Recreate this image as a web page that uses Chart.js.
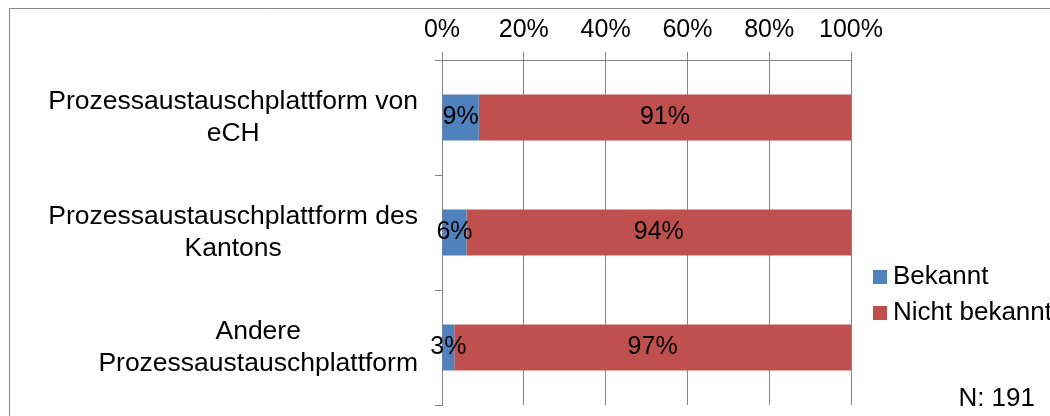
<!DOCTYPE html>
<html>
<head>
<meta charset="utf-8">
<script src="https://cdn.jsdelivr.net/npm/chart.js"></script>
<style>
  body { margin: 0; background: #fff; }
  canvas { display: block; }
</style>
</head>
<body>
<canvas id="bekanntChart" width="1050" height="416"></canvas>
<script>
// Daten
const kategorien = [
  ['Prozessaustauschplattform von', 'eCH'],
  ['Prozessaustauschplattform des', 'Kantons'],
  ['Andere', 'Prozessaustauschplattform']
];
const bekannt = [9, 6, 3];
const nichtBekannt = [91, 94, 97];
const serienNamen = ['Bekannt', 'Nicht bekannt'];
const farben = ['#4F81BD', '#C0504D'];
const xTicks = [0, 20, 40, 60, 80, 100];
const fussnote = 'N: 191';

const schrift = '"Liberation Sans", Arial, sans-serif';
const grau = '#868686';

// Rahmen oben und links
const rahmenPlugin = {
  id: 'rahmen',
  beforeDraw(chart) {
    const ctx = chart.ctx;
    ctx.save();
    ctx.strokeStyle = grau;
    ctx.lineWidth = 1;
    ctx.beginPath();
    ctx.moveTo(9.5, 416);
    ctx.lineTo(9.5, 8.5);
    ctx.lineTo(1050, 8.5);
    ctx.stroke();
    ctx.restore();
  }
};

// Kategorien links: jede Beschriftung für sich zentriert, rechtsbündig am Achsenrand
const kategorienPlugin = {
  id: 'kategorien',
  afterDraw(chart) {
    const ctx = chart.ctx;
    const yScale = chart.scales.y;
    const rechts = chart.chartArea.left - 24;
    ctx.save();
    ctx.font = '26.5px ' + schrift;
    ctx.fillStyle = '#000';
    ctx.textAlign = 'center';
    ctx.textBaseline = 'middle';
    kategorien.forEach((zeilen, i) => {
      const breite = Math.max(...zeilen.map(z => ctx.measureText(z).width));
      const x = rechts - breite / 2;
      const y = yScale.getPixelForValue(i);
      zeilen.forEach((z, k) => {
        ctx.fillText(z, x, y + (k - (zeilen.length - 1) / 2) * 32);
      });
    });
    ctx.restore();
  }
};

// Prozentwerte in den Balken
const wertePlugin = {
  id: 'werte',
  afterDatasetsDraw(chart) {
    const ctx = chart.ctx;
    ctx.save();
    ctx.font = '25px ' + schrift;
    ctx.fillStyle = '#000';
    ctx.textAlign = 'center';
    ctx.textBaseline = 'middle';
    chart.data.datasets.forEach((ds, i) => {
      chart.getDatasetMeta(i).data.forEach((bar, j) => {
        const mitte = (bar.x + bar.base) / 2;
        ctx.fillText(ds.data[j] + '%', mitte, bar.y);
      });
    });
    ctx.restore();
  }
};

// Legende rechts und Fussnote
const legendePlugin = {
  id: 'legende',
  afterDraw(chart) {
    const ctx = chart.ctx;
    const area = chart.chartArea;
    ctx.save();
    ctx.font = '26px ' + schrift;
    ctx.textBaseline = 'middle';
    ctx.textAlign = 'left';
    chart.data.datasets.forEach((ds, i) => {
      const y = 277 + i * 36;
      ctx.fillStyle = ds.backgroundColor;
      ctx.fillRect(area.right + 22, y - 7, 14, 14);
      ctx.fillStyle = '#000';
      ctx.fillText(ds.label, area.right + 42, y);
    });
    ctx.textAlign = 'right';
    ctx.fillText(fussnote, 1035, 399);
    ctx.restore();
  }
};

const ctx = document.getElementById('bekanntChart').getContext('2d');
new Chart(ctx, {
  type: 'bar',
  data: {
    labels: kategorien,
    datasets: [
      { label: serienNamen[0], data: bekannt, backgroundColor: farben[0] },
      { label: serienNamen[1], data: nichtBekannt, backgroundColor: farben[1] }
    ]
  },
  options: {
    indexAxis: 'y',
    responsive: false,
    animation: false,
    barPercentage: 0.4,
    categoryPercentage: 1,
    layout: { padding: { left: 0, top: 0, right: 199, bottom: 11 } },
    plugins: { legend: { display: false }, tooltip: { enabled: false } },
    scales: {
      x: {
        position: 'top',
        stacked: true,
        min: 0,
        max: 100,
        grid: { color: grau, tickLength: 8 },
        border: { display: true, color: grau },
        ticks: {
          color: '#000',
          font: { family: schrift, size: 25 },
          padding: 7,
          callback: v => v + '%'
        },
        afterBuildTicks(scale) { scale.ticks = xTicks.map(v => ({ value: v })); },
        afterFit(scale) { scale.height = 60; }
      },
      y: {
        stacked: true,
        grid: { drawOnChartArea: false, color: grau, tickLength: 7, offset: true },
        border: { display: true, color: grau },
        ticks: { display: false },
        afterFit(scale) {
          scale.width = 442;
          scale.paddingTop = 0;
          scale.paddingBottom = 0;
        }
      }
    }
  },
  plugins: [rahmenPlugin, wertePlugin, kategorienPlugin, legendePlugin]
});
</script>
</body>
</html>
